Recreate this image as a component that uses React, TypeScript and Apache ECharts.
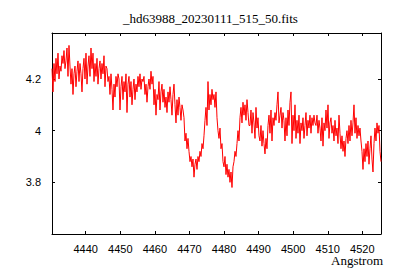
import React, { useEffect, useRef } from "react";
import * as echarts from "echarts";

const titleText = "_hd63988_20230111_515_50.fits";
const xAxisName = "Angstrom";
const startWavelength = 4430.25;
const wavelengthStep = 0.2892;
const xTicks = [4440, 4450, 4460, 4470, 4480, 4490, 4500, 4510, 4520];
const yTicks = [3.8, 4.0, 4.2];

const flux = [
  // 4430 - 4449
  4.24, 4.15, 4.26, 4.19,
  4.28, 4.22, 4.30, 4.20, 4.25,
  4.23, 4.29, 4.26, 4.31, 4.24,
  4.27, 4.32, 4.21, 4.33, 4.25,
  4.18, 4.24, 4.14, 4.22, 4.25,
  4.17, 4.23, 4.27, 4.19, 4.26,
  4.22, 4.15, 4.24, 4.28, 4.20,
  4.30, 4.18, 4.25, 4.29, 4.21,
  4.32, 4.24, 4.30, 4.19, 4.26,
  4.21, 4.28, 4.18, 4.24, 4.27,
  4.20, 4.26, 4.22, 4.29, 4.17,
  4.25, 4.24, 4.19, 4.21, 4.14,
  4.22, 4.16, 4.08, 4.18, 4.13,
  4.21, 4.17,
  // 4449 - 4468
  4.22, 4.20, 4.08, 4.17, 4.21,
  4.12, 4.19, 4.15, 4.22, 4.07,
  4.18, 4.21, 4.13, 4.19, 4.10,
  4.16, 4.20, 4.12, 4.18, 4.15,
  4.21, 4.17, 4.22, 4.16, 4.20,
  4.19, 4.21, 4.14, 4.18, 4.11,
  4.17, 4.20, 4.16, 4.23, 4.18,
  4.21, 4.10, 4.16, 4.06, 4.14,
  4.12, 4.19, 4.08, 4.15, 4.18,
  4.11, 4.16, 4.09, 4.13, 4.07,
  4.15, 4.11, 4.17, 4.12, 4.06,
  4.14, 4.18, 4.10, 4.03, 4.12,
  4.06, 4.13, 4.09, 4.04, 4.10, 4.08,
  // 4468 - 4487
  4.05, 3.96, 3.99, 3.93, 3.97,
  3.92, 3.88, 3.90, 3.86, 3.89,
  3.82, 3.87, 3.89, 3.85, 3.90,
  3.88, 3.92, 3.90, 3.95, 3.93,
  3.98, 4.04, 4.09, 4.02, 4.19,
  4.08, 4.14, 4.10, 4.16, 4.12,
  4.14, 4.09, 4.15, 4.05, 4.00,
  3.97, 4.01, 3.93, 3.95, 3.88,
  3.86, 3.90, 3.83, 3.87, 3.82,
  3.85, 3.80, 3.84, 3.78, 3.86,
  3.88, 3.92, 3.90, 3.95, 4.00,
  3.96, 4.05, 4.09, 4.03, 4.11,
  4.06, 4.10, 4.04, 4.12, 4.07, 4.02,
  // 4487 - 4506
  4.02, 4.08, 3.99, 4.07, 4.03,
  3.97, 4.09, 4.01, 4.05, 3.98,
  3.96, 4.02, 3.94, 4.00, 3.95,
  3.91, 3.97, 3.93, 4.02, 4.06,
  3.99, 4.08, 3.96, 4.05, 4.02,
  4.07, 4.04, 4.10, 4.15, 4.03,
  4.06, 4.09, 4.01, 4.07, 4.04,
  3.96, 4.05, 3.98, 4.08, 4.02,
  4.11, 4.15, 3.95, 4.06, 4.00,
  4.10, 3.97, 4.04, 3.99, 4.06,
  3.95, 4.03, 4.00, 4.05, 3.97,
  4.02, 4.07, 3.98, 4.04, 4.01,
  4.06, 3.99, 4.05, 4.02, 4.06, 4.03,
  // 4506 - 4525
  4.02, 4.06, 3.99, 4.04, 4.01,
  3.96, 4.05, 3.94, 4.03, 4.00,
  4.08, 4.01, 4.10, 3.97, 4.03,
  4.05, 3.99, 4.02, 3.96, 4.04,
  3.98, 4.01, 3.95, 4.06, 3.99,
  3.93, 3.98, 3.92, 3.96, 3.90,
  3.97, 4.00, 3.95, 4.02, 3.96,
  4.04, 3.98, 4.03, 4.10, 3.99,
  4.05, 3.97, 4.02, 3.98, 4.01,
  3.96, 3.92, 3.85, 3.93, 3.88,
  3.95, 3.90, 3.96, 3.87, 3.93,
  3.98, 3.89, 3.84, 3.95, 4.01,
  3.96, 4.03, 3.99, 4.02, 3.92, 3.88,
];

export default function App() {
  const ref = useRef<HTMLDivElement>(null);
  useEffect(() => {
    if (!ref.current) return;
    const chart = echarts.init(ref.current, null, { renderer: "svg" });
    const data = flux.map((v, i) => [startWavelength + i * wavelengthStep, v]);
    const xMin = startWavelength;
    const xMax = 4525.4;
    const yMin = 3.6;
    const yMax = 4.378;
    const labelFont = { fontFamily: "Liberation Sans", fontSize: 11, color: "#000" };
    const tickStyle = { show: true, inside: true, length: 3, lineStyle: { color: "#000", width: 1 } };
    const lineStyle = { show: true, lineStyle: { color: "#000", width: 1 } };
    chart.setOption({
      animation: false,
      backgroundColor: "#fff",
      grid: { left: 52, right: 19, top: 33, bottom: 46, containLabel: false },
      xAxis: [
        {
          type: "value",
          min: xMin,
          max: xMax,
          position: "bottom",
          axisLine: lineStyle,
          axisTick: { ...tickStyle, customValues: xTicks },
          axisLabel: { ...labelFont, margin: 9, customValues: xTicks, formatter: (v: number) => String(Math.round(v)) },
          splitLine: { show: false },
        },
        {
          type: "value",
          min: xMin,
          max: xMax,
          position: "top",
          axisLine: lineStyle,
          axisTick: { ...tickStyle, customValues: xTicks },
          axisLabel: { show: false },
          splitLine: { show: false },
        },
      ],
      yAxis: [
        {
          type: "value",
          min: yMin,
          max: yMax,
          position: "left",
          axisLine: lineStyle,
          axisTick: { ...tickStyle, customValues: yTicks },
          axisLabel: {
            ...labelFont,
            margin: 11,
            customValues: yTicks,
            formatter: (v: number) => String(Math.round(v * 10) / 10),
          },
          splitLine: { show: false },
        },
        {
          type: "value",
          min: yMin,
          max: yMax,
          position: "right",
          axisLine: lineStyle,
          axisTick: { ...tickStyle, customValues: yTicks },
          axisLabel: { show: false },
          splitLine: { show: false },
        },
      ],
      graphic: [
        {
          type: "text",
          left: 123,
          top: 12,
          style: { text: titleText, fontFamily: "Liberation Serif", fontSize: 13, fill: "#000" },
        },
        {
          type: "text",
          right: 17,
          top: 254,
          style: { text: xAxisName, fontFamily: "Liberation Serif", fontSize: 13, fill: "#000" },
        },
      ],
      series: [
        {
          type: "line",
          data,
          xAxisIndex: 0,
          yAxisIndex: 0,
          showSymbol: false,
          symbol: "none",
          lineStyle: { color: "#ff0000", width: 1 },
          clip: true,
        },
      ],
    });
    return () => chart.dispose();
  }, []);
  return (
    <div
      ref={ref}
      style={{ position: "absolute", left: 0, top: 0, width: 400, height: 280 }}
    />
  );
}
